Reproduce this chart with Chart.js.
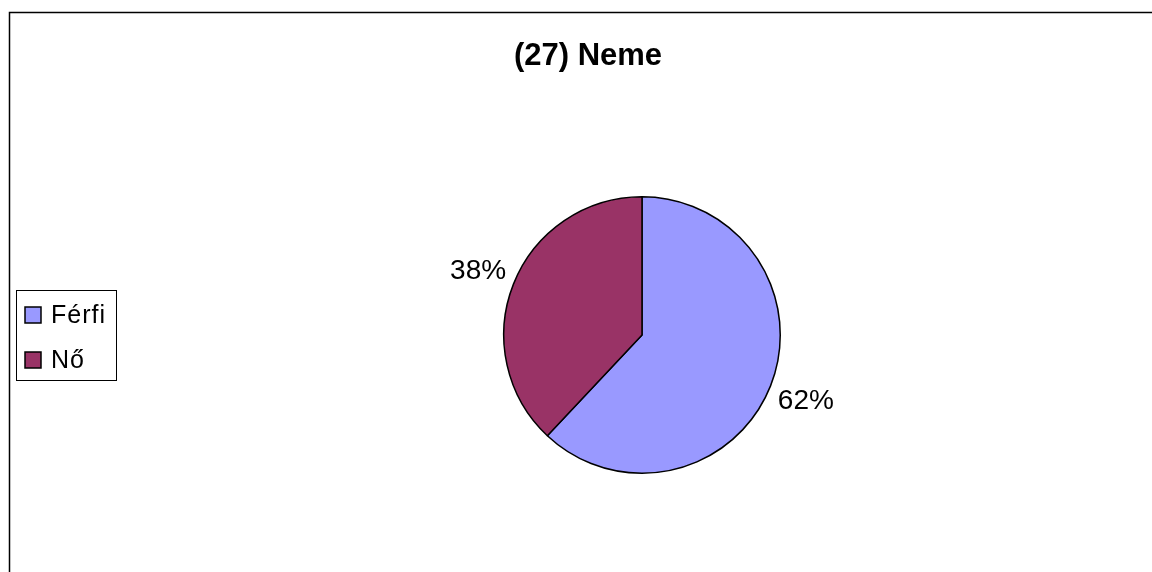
<!DOCTYPE html>
<html>
<head>
<meta charset="utf-8">
<script src="https://cdn.jsdelivr.net/npm/chart.js@4"></script>
<style>
  html, body { margin: 0; padding: 0; background: #fff; }
  #wrap { width: 1152px; height: 572px; }
</style>
</head>
<body>
<div id="wrap"><canvas id="grafico" width="1152" height="572"></canvas></div>
<script>
  const titulo = "(27) Neme";
  const categorias = ["Férfi", "Nő"];
  const valores = [62, 38];
  const cores = ["#9999FF", "#993366"];

  const fonte = "'Liberation Sans', Arial, sans-serif";

  // borda, titulo, legenda e rotulos desenhados a mao
  const extras = {
    id: "extras",
    beforeDraw(chart) {
      const ctx = chart.ctx;
      ctx.save();
      ctx.fillStyle = "#fff";
      ctx.fillRect(0, 0, chart.width, chart.height);
      ctx.strokeStyle = "#000";
      ctx.lineWidth = 1.5;
      ctx.strokeRect(9.5, 12.5, chart.width + 20, chart.height + 20);
      ctx.restore();
    },
    afterDraw(chart) {
      const ctx = chart.ctx;
      ctx.save();

      ctx.fillStyle = "#000";
      ctx.font = "bold 31px " + fonte;
      ctx.textAlign = "center";
      ctx.textBaseline = "alphabetic";
      ctx.fillText(titulo, 588, 65);

      // rotulos de porcentagem
      const total = valores.reduce((a, b) => a + b, 0);
      ctx.font = "28px " + fonte;
      ctx.textBaseline = "middle";
      chart.getDatasetMeta(0).data.forEach((arc, i) => {
        const p = arc.getProps(["x", "y", "startAngle", "endAngle", "outerRadius"]);
        const meio = (p.startAngle + p.endAngle) / 2;
        const r = p.outerRadius + 38;
        const pct = Math.round(valores[i] / total * 100) + "%";
        ctx.fillText(pct, p.x + Math.cos(meio) * r, p.y + Math.sin(meio) * r + 1);
      });

      // legenda
      ctx.lineWidth = 1;
      ctx.strokeStyle = "#000";
      ctx.strokeRect(16.5, 290.5, 100, 90);
      ctx.font = "25px " + fonte;
      ctx.textAlign = "left";
      ctx.letterSpacing = "1px";
      const ys = [315, 360];
      categorias.forEach((nome, i) => {
        ctx.fillStyle = cores[i];
        ctx.fillRect(25, ys[i] - 8, 16, 16);
        ctx.lineWidth = 1.5;
        ctx.strokeRect(25, ys[i] - 8, 16, 16);
        ctx.fillStyle = "#000";
        ctx.fillText(nome, 51, ys[i] + 1);
      });

      ctx.restore();
    }
  };

  new Chart(document.getElementById("grafico").getContext("2d"), {
    type: "pie",
    data: {
      labels: categorias,
      datasets: [{
        data: valores,
        backgroundColor: cores,
        borderColor: "#000",
        borderWidth: 1.5
      }]
    },
    options: {
      responsive: false,
      animation: false,
      layout: { padding: { left: 503, right: 371, top: 196, bottom: 98 } },
      plugins: {
        legend: { display: false },
        title: { display: false },
        tooltip: { enabled: false }
      }
    },
    plugins: [extras]
  });
</script>
</body>
</html>
